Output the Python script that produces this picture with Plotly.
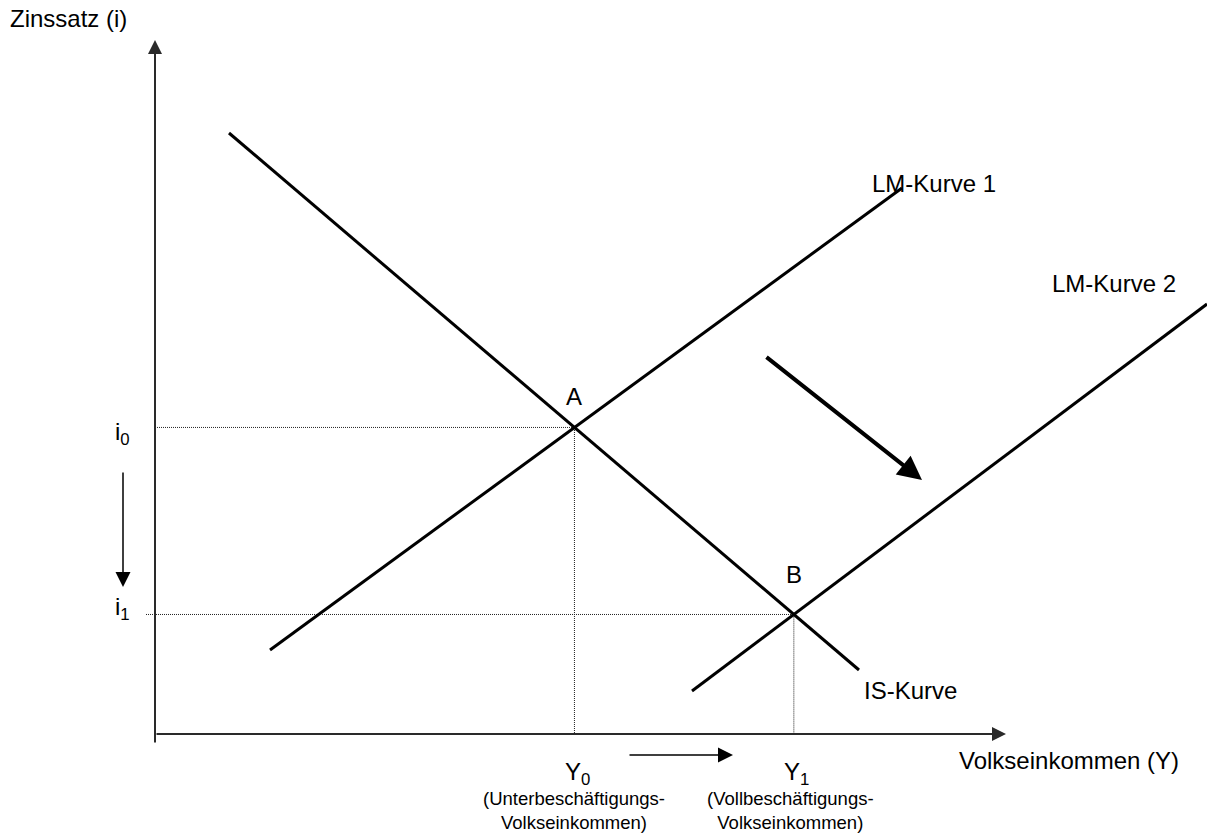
import plotly.graph_objects as go

# IS-LM diagram: income Y on the horizontal axis, interest rate i on the vertical axis
is_Y = [74, 704]
is_i = [601, 64]
lm1_Y = [115, 747]
lm1_i = [84, 546]
lm2_Y = [537, 1052]
lm2_i = [43, 430]

curve_labels = ["IS-Kurve", "LM-Kurve 1", "LM-Kurve 2"]
point_labels = ["A", "B"]
rate_labels = ["i<sub>0</sub>", "i<sub>1</sub>"]
income_labels = ["Y<sub>0</sub>", "Y<sub>1</sub>"]
income_notes = ["(Unterbeschäftigungs-<br>Volkseinkommen)",
                "(Vollbeschäftigungs-<br>Volkseinkommen)"]
axis_titles = ["Volkseinkommen (Y)", "Zinssatz (i)"]


def intersect(x1, y1, x2, y2):
    m1 = (y1[1] - y1[0]) / (x1[1] - x1[0])
    m2 = (y2[1] - y2[0]) / (x2[1] - x2[0])
    b1 = y1[0] - m1 * x1[0]
    b2 = y2[0] - m2 * x2[0]
    x = (b2 - b1) / (m1 - m2)
    return x, m1 * x + b1


YA, iA = intersect(is_Y, is_i, lm1_Y, lm1_i)
YB, iB = intersect(is_Y, is_i, lm2_Y, lm2_i)

FONT = "Liberation Sans, Arial, sans-serif"
fig = go.Figure()

# guide lines from the equilibria to the axes
dot = dict(color="#222", width=1, dash="1px,1px")
fig.add_trace(go.Scatter(x=[0, YA, YA], y=[iA, iA, 0], mode="lines", line=dot, hoverinfo="skip"))
fig.add_trace(go.Scatter(x=[-9, YB, YB], y=[iB, iB, 0], mode="lines", line=dot, hoverinfo="skip"))

# curves
thick = dict(color="black", width=3)
for xs, ys in [(is_Y, is_i), (lm1_Y, lm1_i), (lm2_Y, lm2_i)]:
    fig.add_trace(go.Scatter(x=xs, y=ys, mode="lines", line=thick, hoverinfo="skip"))


def arrow(x0, y0, x1, y1, width, size, color="black"):
    fig.add_annotation(x=x1, y=y1, ax=x0, ay=y0, xref="x", yref="y", axref="x", ayref="y",
                       text="", showarrow=True, arrowhead=2, arrowwidth=width,
                       arrowsize=size, arrowcolor=color, standoff=0, startstandoff=0)


# axes
arrow(0, -10, 0, 694, 2, 1.4, "#2a2a2a")
arrow(0, 0, 851, 0, 2, 1.4, "#2a2a2a")
# shift arrows
arrow(-32, 263, -32, 147, 1.5, 2.0)
arrow(473, -21, 578, -21, 1.5, 2.0)
arrow(610, 378, 767, 254, 4, 1.2)


def label(x, y, text, size=24, xanchor="center"):
    fig.add_annotation(x=x, y=y, xref="x", yref="y", text=text, showarrow=False,
                       xanchor=xanchor, yanchor="middle",
                       font=dict(family=FONT, size=size, color="black"))


label(-147, 716, axis_titles[1], xanchor="left")
label(802, -26, axis_titles[0], xanchor="left")
label(707, 44, curve_labels[0], xanchor="left")
label(715, 551, curve_labels[1], xanchor="left")
label(895, 451, curve_labels[2], xanchor="left")
label(YA, iA + 31, point_labels[0])
label(YB, iB + 40, point_labels[1])
label(-33, iA - 6, rate_labels[0])
label(-33, iB + 6, rate_labels[1])
label(YA + 3, -39, income_labels[0])
label(YB + 3, -39, income_labels[1])
label(YA, -76, income_notes[0], size=18.5)
label(YB - 3, -76, income_notes[1], size=18.5)

fig.update_layout(
    width=1207, height=837,
    margin=dict(l=0, r=0, t=0, b=0),
    paper_bgcolor="white", plot_bgcolor="white",
    showlegend=False,
    xaxis=dict(range=[-155, 1052], visible=False, fixedrange=True),
    yaxis=dict(range=[-103, 734], visible=False, fixedrange=True),
)

fig.write_html("out.html")
